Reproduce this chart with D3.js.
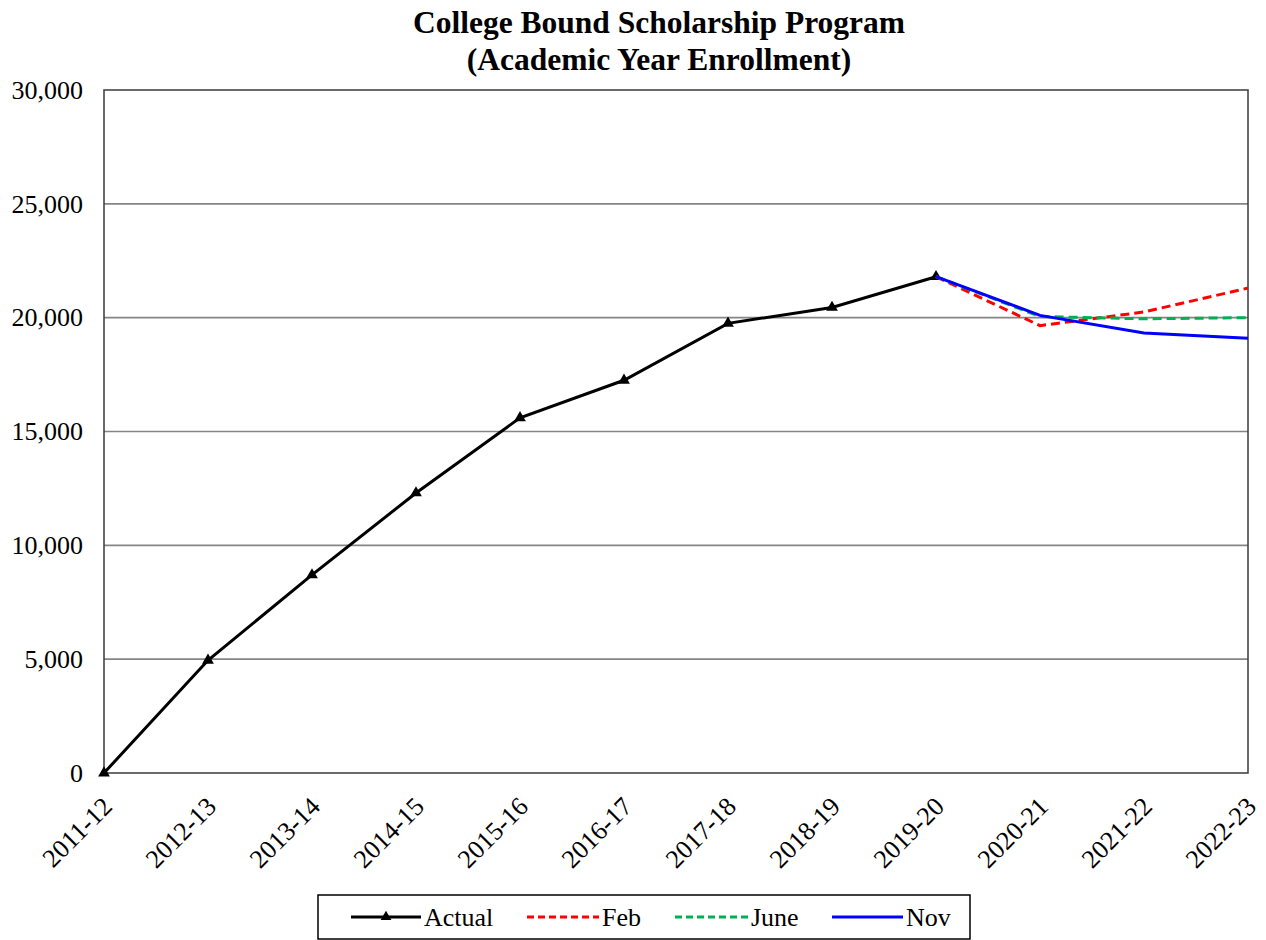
<!DOCTYPE html>
<html>
<head>
<meta charset="utf-8">
<script src="https://cdn.jsdelivr.net/npm/d3@7"></script>
<style>
  body { margin: 0; background: #fff; }
  svg text { font-family: "Liberation Serif", "Times New Roman", serif; }
</style>
</head>
<body>
<div id="chart"></div>
<script>
const years = ['2011-12', '2012-13', '2013-14', '2014-15', '2015-16', '2016-17',
    '2017-18', '2018-19', '2019-20', '2020-21', '2021-22', '2022-23'];
const actual = [0, 4950, 8700, 12300, 15600, 17250, 19750, 20450, 21800];
const febYears = ['2019-20', '2020-21', '2021-22', '2022-23'];
const feb = [21800, 19650, 20250, 21300];
const juneYears = ['2019-20', '2020-21', '2021-22', '2022-23'];
const june = [21800, 20050, 19950, 20000];
const novYears = ['2019-20', '2020-21', '2021-22', '2022-23'];
const nov = [21800, 20100, 19330, 19100];
const yTicks = [0, 5000, 10000, 15000, 20000, 25000, 30000];

const W = 1266, H = 940;
const margin = { top: 90, right: 18, bottom: 167, left: 104 };
const width = W - margin.left - margin.right;
const height = H - margin.top - margin.bottom;
const serif = '"Liberation Serif", "Times New Roman", serif';

const svg = d3.select('#chart').append('svg')
    .attr('width', W)
    .attr('height', H);

const g = svg.append('g')
    .attr('transform', `translate(${margin.left},${margin.top})`);

const x = d3.scalePoint().domain(years).range([0, width]);
const y = d3.scaleLinear().domain([0, 30000]).range([height, 0]);

// gridlines
g.selectAll('.grid').data(yTicks.slice(1, -1)).enter().append('line')
    .attr('x1', 0).attr('x2', width)
    .attr('y1', d => y(d)).attr('y2', d => y(d))
    .attr('stroke', '#858585').attr('stroke-width', 1.6);

// plot border
g.append('rect')
    .attr('width', width).attr('height', height)
    .attr('fill', 'none').attr('stroke', '#3a3a3a').attr('stroke-width', 1.5);

// y axis
const yAxis = g.append('g')
    .call(d3.axisLeft(y).tickValues(yTicks).tickFormat(d3.format(',')).tickSize(0).tickPadding(21));
yAxis.attr('font-family', serif);
yAxis.select('.domain').remove();
yAxis.selectAll('text')
    .style('font-family', serif)
    .style('font-size', '26px')
    .attr('fill', '#000');

// x axis
const xAxis = g.append('g')
    .attr('transform', `translate(0,${height})`)
    .call(d3.axisBottom(x).tickSize(0));
xAxis.attr('font-family', serif);
xAxis.select('.domain').remove();
xAxis.selectAll('text')
    .style('font-family', serif)
    .style('font-size', '26px')
    .attr('fill', '#000')
    .style('text-anchor', 'end')
    .attr('dy', 0)
    .attr('transform', 'translate(7,33) rotate(-45)');

const line = d3.line().x(d => x(d.k)).y(d => y(d.v));

const series = [
    { name: 'Actual', keys: years.slice(0, actual.length), vals: actual, color: '#000', dash: null },
    { name: 'Feb', keys: febYears, vals: feb, color: '#ff0000', dash: '9,5' },
    { name: 'June', keys: juneYears, vals: june, color: '#00b050', dash: '9,5' },
    { name: 'Nov', keys: novYears, vals: nov, color: '#0000ff', dash: null }
];

series.forEach(s => {
    const pts = s.keys.map((k, i) => ({ k, v: s.vals[i] }));
    g.append('path')
        .datum(pts)
        .attr('d', line)
        .attr('fill', 'none')
        .attr('stroke', s.color)
        .attr('stroke-width', 3)
        .attr('stroke-dasharray', s.dash);
    if (s.name === 'Actual') {
        g.selectAll('.tri').data(pts).enter().append('path')
            .attr('d', d3.symbol(d3.symbolTriangle, 60))
            .attr('transform', d => `translate(${x(d.k)},${y(d.v)})`)
            .attr('fill', '#000');
    }
});

// title
svg.append('text')
    .attr('x', 659).attr('y', 33)
    .attr('text-anchor', 'middle')
    .style('font-size', '31.5px').style('font-weight', 'bold')
    .text('College Bound Scholarship Program');
svg.append('text')
    .attr('x', 659).attr('y', 70)
    .attr('text-anchor', 'middle')
    .style('font-size', '31.5px').style('font-weight', 'bold')
    .text('(Academic Year Enrollment)');

// legend
const legend = svg.append('g').attr('transform', 'translate(318,895)');
legend.append('rect')
    .attr('width', 652).attr('height', 44)
    .attr('fill', '#fff').attr('stroke', '#000').attr('stroke-width', 1.5);
const itemPos = [[33, 103], [209, 281], [357, 430], [514, 585]];
series.forEach((s, i) => {
    const [x0, x1] = itemPos[i];
    const item = legend.append('g');
    item.append('line')
        .attr('x1', x0).attr('x2', x1)
        .attr('y1', 22).attr('y2', 22)
        .attr('stroke', s.color).attr('stroke-width', 3)
        .attr('stroke-dasharray', s.dash ? '7,4' : null);
    if (s.name === 'Actual') {
        item.append('path')
            .attr('d', d3.symbol(d3.symbolTriangle, 50))
            .attr('transform', `translate(${(x0 + x1) / 2},22)`)
            .attr('fill', '#000');
    }
    item.append('text')
        .attr('x', x1 + 3).attr('y', 31)
        .style('font-size', '26px')
        .text(s.name);
});
</script>
</body>
</html>
